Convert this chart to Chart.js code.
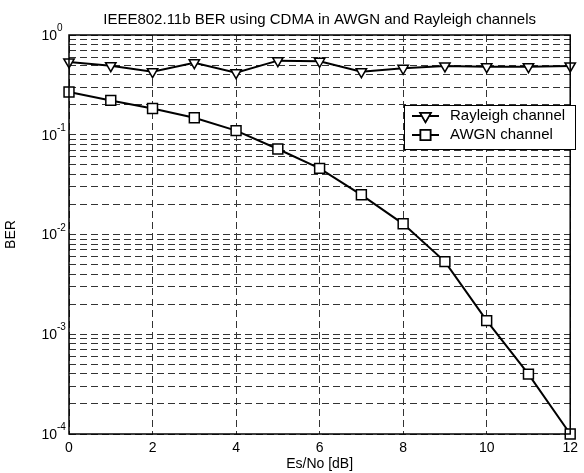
<!DOCTYPE html>
<html>
<head>
<meta charset="utf-8">
<script src="https://cdn.jsdelivr.net/npm/chart.js@4"></script>
<style>
  html, body { margin: 0; padding: 0; background: #fff; }
  #ber { display: block; }
</style>
</head>
<body>
<canvas id="ber" width="584" height="473"></canvas>
<script>
// datos
const titleText = 'IEEE802.11b BER using CDMA in AWGN and Rayleigh channels';
const esNo = [0, 1, 2, 3, 4, 5, 6, 7, 8, 9, 10, 11, 12];
const rayleighBer = [0.537, 0.492, 0.429, 0.528, 0.419, 0.553, 0.545, 0.429, 0.464, 0.489, 0.481, 0.481, 0.489];
const awgnBer = [0.268, 0.221, 0.183, 0.148, 0.110, 0.072, 0.046, 0.025, 0.0128, 0.00535, 0.00137, 0.000398, 0.0001];
const seriesLabels = ['Rayleigh channel', 'AWGN channel'];
const xTicks = [0, 2, 4, 6, 8, 10, 12];
const yDecades = [-4, -3, -2, -1, 0];
const xTitle = 'Es/No [dB]';
const yTitle = 'BER';

const FONT = '"Liberation Sans", Arial, sans-serif';

// ticks del eje log: 1..9 por decada
function buildLogTicks() {
    const out = [];
    yDecades.forEach(e => {
        if (e === yDecades[yDecades.length - 1]) {
            out.push({ value: Math.pow(10, e) });
            return;
        }
        for (let m = 1; m <= 9; m++) out.push({ value: m * Math.pow(10, e) });
    });
    return out;
}

// caja, titulo, etiquetas 10^n y leyenda al estilo matlab
const matlabLook = {
    id: 'matlabLook',
    afterDraw(chart) {
        const { ctx, chartArea: a, scales } = chart;
        ctx.save();
        ctx.strokeStyle = '#000';
        ctx.lineWidth = 1.5;
        ctx.setLineDash([]);
        ctx.strokeRect(a.left, a.top, a.right - a.left, a.bottom - a.top);

        ctx.fillStyle = '#000';
        ctx.font = '15px ' + FONT;
        ctx.textAlign = 'center';
        ctx.textBaseline = 'middle';
        ctx.fillText(titleText, (a.left + a.right) / 2, 20);

        yDecades.forEach(e => {
            const y = scales.y.getPixelForValue(Math.pow(10, e));
            ctx.font = '14px ' + FONT;
            ctx.textAlign = 'right';
            ctx.textBaseline = 'middle';
            ctx.fillText('10', a.left - 12, y + 1);
            ctx.font = '10px ' + FONT;
            ctx.textAlign = 'left';
            ctx.textBaseline = 'alphabetic';
            ctx.fillText(String(e), a.left - 12, y - 4);
        });

        // leyenda
        const lx = 404, ly = 105, lw = 171, lh = 44;
        ctx.fillStyle = '#fff';
        ctx.fillRect(lx, ly, lw, lh);
        ctx.strokeStyle = '#000';
        ctx.lineWidth = 1;
        ctx.strokeRect(lx + 0.5, ly + 0.5, lw, lh);
        chart.data.datasets.forEach((ds, i) => {
            const y = ly + 11 + i * 19;
            ctx.strokeStyle = ds.borderColor;
            ctx.lineWidth = ds.borderWidth;
            ctx.beginPath();
            ctx.moveTo(lx + 8, y);
            ctx.lineTo(lx + 35, y);
            ctx.stroke();
            Chart.helpers.drawPoint(ctx, {
                pointStyle: ds.pointStyle,
                rotation: ds.pointRotation || 0,
                radius: ds.pointRadius,
                borderWidth: ds.pointBorderWidth
            }, lx + 21.5, y);
            ctx.fillStyle = '#fff';
            ctx.strokeStyle = '#000';
            ctx.lineWidth = ds.pointBorderWidth;
            ctx.fill();
            ctx.stroke();
            ctx.fillStyle = '#000';
            ctx.font = '15px ' + FONT;
            ctx.textAlign = 'left';
            ctx.textBaseline = 'middle';
            ctx.fillText(ds.label, lx + 46, y);
        });
        ctx.restore();
    }
};

const gridOpts = { color: '#333', lineWidth: 1, drawTicks: false };
const borderOpts = { display: false, dash: [7, 4] };

new Chart(document.getElementById('ber').getContext('2d'), {
    type: 'line',
    data: {
        datasets: [{
            label: seriesLabels[0],
            data: esNo.map((x, i) => ({ x: x, y: rayleighBer[i] })),
            borderColor: '#000',
            borderWidth: 2,
            pointStyle: 'triangle',
            pointRotation: 180,
            pointRadius: 6,
            pointBorderWidth: 1.5,
            pointBackgroundColor: '#fff',
            pointBorderColor: '#000',
            tension: 0,
            fill: false,
            clip: false
        }, {
            label: seriesLabels[1],
            data: esNo.map((x, i) => ({ x: x, y: awgnBer[i] })),
            borderColor: '#000',
            borderWidth: 2,
            pointStyle: 'rect',
            pointRadius: 7,
            pointBorderWidth: 1.5,
            pointBackgroundColor: '#fff',
            pointBorderColor: '#000',
            tension: 0,
            fill: false,
            clip: false
        }]
    },
    options: {
        responsive: false,
        devicePixelRatio: 1,
        animation: false,
        layout: { padding: { left: 0, right: 8, top: 35, bottom: 0 } },
        plugins: {
            legend: { display: false },
            title: { display: false },
            tooltip: { enabled: false }
        },
        scales: {
            x: {
                type: 'linear',
                min: 0,
                max: 12,
                afterBuildTicks: s => { s.ticks = xTicks.map(v => ({ value: v })); },
                afterFit: s => { s.height = 39; },
                grid: gridOpts,
                border: borderOpts,
                ticks: { color: '#000', font: { family: FONT, size: 14 }, padding: 6, maxRotation: 0 },
                title: { display: true, text: xTitle, color: '#000', font: { family: FONT, size: 14 }, padding: 0 }
            },
            y: {
                type: 'logarithmic',
                min: 1e-4,
                max: 1,
                afterBuildTicks: s => { s.ticks = buildLogTicks(); },
                afterFit: s => { s.width = 69; },
                grid: gridOpts,
                border: borderOpts,
                ticks: { display: false },
                title: { display: true, text: yTitle, color: '#000', font: { family: FONT, size: 14 }, padding: 3 }
            }
        }
    },
    plugins: [matlabLook]
});
</script>
</body>
</html>
